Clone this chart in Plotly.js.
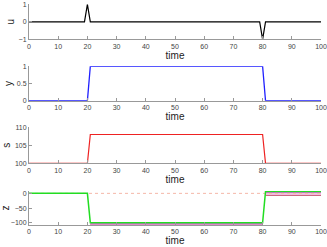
<!DOCTYPE html>
<html><head><meta charset="utf-8">
<script src="https://cdn.plot.ly/plotly-3.0.1.min.js"></script>
<style>html,body{margin:0;padding:0;background:#fff}#c{width:327px;height:247px}</style>
</head><body><div id="c"></div>
<script>
// Data
const tU = [0, 19, 20, 21, 79, 80, 81, 100];
const uVals = [0, 0, 1, 0, 0, -1, 0, 0];
const tStep = [0, 20, 21, 80, 81, 100];
const yVals = [0, 0, 1, 1, 0, 0];
const sVals = [100, 100, 108, 108, 100, 100];
const zGreen = [0, 0, -100, -100, 6.5, 6.5];
const tSeg = [21, 80, null, 81, 100];
const zMagenta = [-103, -103, null, 3, 3];
const zPink = [-105, -105, null, -2, -2];
const zDark = [-106.5, -106.5, null, -7, -7];
const tRef = [0, 100];
const zRef = [0, 0];
const xTicks = [0, 10, 20, 30, 40, 50, 60, 70, 80, 90, 100];

const font = {family: 'Liberation Sans, Arial, sans-serif', size: 7, color: '#444'};
function xa(anchor){
  return {anchor: anchor, range: [0, 100], tickvals: xTicks, showline: true, linecolor: '#999', linewidth: 1,
    ticks: 'inside', ticklen: 3, tickcolor: '#999', showgrid: false, zeroline: false,
    tickfont: font, title: {text: 'time', font: {family: font.family, size: 10, color: '#222'}, standoff: 0}};
}
function ya(anchor, dom, range, tv, title){
  return {anchor: anchor, domain: dom, range: range, tickvals: tv, showline: true, linecolor: '#999', linewidth: 1,
    ticks: 'inside', ticklen: 3, tickcolor: '#999', showgrid: false, zeroline: false,
    tickfont: font, title: {text: title, font: {family: font.family, size: 10, color: '#222'}, standoff: 2}};
}

const traces = [
  {x: tU, y: uVals, xaxis: 'x', yaxis: 'y', mode: 'lines', line: {color: '#000', width: 1.2}},
  {x: tStep, y: yVals, xaxis: 'x2', yaxis: 'y2', mode: 'lines', line: {color: '#1f1fff', width: 1.3}},
  {x: tStep, y: sVals, xaxis: 'x3', yaxis: 'y3', mode: 'lines', line: {color: '#ee2222', width: 1.2}},
  {x: tSeg, y: zDark, xaxis: 'x4', yaxis: 'y4', mode: 'lines', line: {color: '#cc6680', width: 1.2}, connectgaps: false},
  {x: tSeg, y: zPink, xaxis: 'x4', yaxis: 'y4', mode: 'lines', line: {color: '#eea0d8', width: 1.2}, connectgaps: false},
  {x: tSeg, y: zMagenta, xaxis: 'x4', yaxis: 'y4', mode: 'lines', line: {color: '#e060e8', width: 1.2}, connectgaps: false},
  {x: tRef, y: zRef, xaxis: 'x4', yaxis: 'y4', mode: 'lines', line: {color: '#f5b8a8', width: 1, dash: 'dot'}},
  {x: tStep, y: zGreen, xaxis: 'x4', yaxis: 'y4', mode: 'lines', line: {color: '#22dd22', width: 1.5}, cliponaxis: false}
];

const layout = {
  width: 327, height: 247, margin: {l: 29, r: 6, t: 4, b: 22},
  paper_bgcolor: '#fff', plot_bgcolor: '#fff', showlegend: false, font: font,
  xaxis: xa('y'), xaxis2: xa('y2'), xaxis3: xa('y3'), xaxis4: xa('y4'),
  yaxis: ya('x', [0.8403, 0.9986], [-1, 1], [-1, 0, 1], 'u'),
  yaxis2: ya('x2', [0.5624, 0.7181], [0, 1], [0, 0.5, 1], 'y'),
  yaxis3: ya('x3', [0.2792, 0.4421], [100, 110], [100, 105, 110], 's'),
  yaxis4: ya('x4', [0, 0.1538], [-107.5, 8], [-100, -50, 0], 'z')
};
layout.yaxis2.ticktext = ['0', '0.5', '1'];
Plotly.newPlot('c', traces, layout, {staticPlot: true, displayModeBar: false});
</script></body></html>
